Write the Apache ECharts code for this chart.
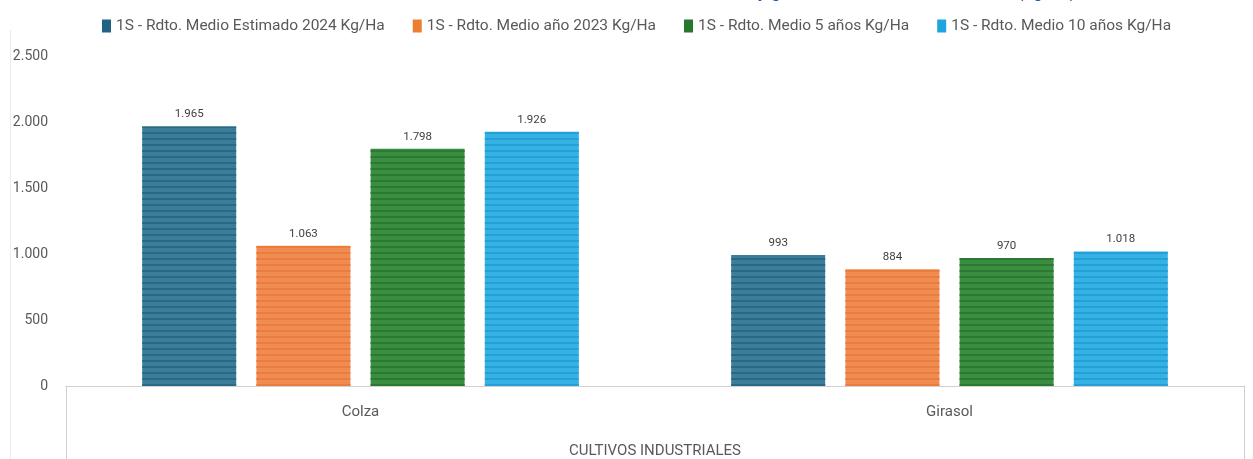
<!DOCTYPE html>
<html><head><meta charset="utf-8">
<script src="https://cdn.jsdelivr.net/npm/echarts@6/dist/echarts.min.js"></script>
<style>html,body{margin:0;padding:0;background:#fff}#c{width:1253px;height:459px}</style>
</head><body><div id="c"></div>
<script>
const categories = ['Colza', 'Girasol'];
const groupLabel = 'CULTIVOS INDUSTRIALES';
const seriesNames = [
  '1S - Rdto. Medio Estimado 2024 Kg/Ha',
  '1S - Rdto. Medio año 2023 Kg/Ha',
  '1S - Rdto. Medio 5 años Kg/Ha',
  '1S - Rdto. Medio 10 años Kg/Ha'
];
const est2024 = [1965, 993];
const year2023 = [1063, 884];
const avg5 = [1798, 970];
const avg10 = [1926, 1018];
const yTicks = [0, 500, 1000, 1500, 2000, 2500];

const values = [est2024, year2023, avg5, avg10];
const fills = ['#3c7d9a', '#f08c52', '#3b8d41', '#35b1e4'];
const stripes = ['#2a6986', '#ea7c3e', '#2a7a32', '#22a1d9'];
const legendColors = ['#1f6283', '#ed7d31', '#27782d', '#1ea5de'];

const fmt = v => String(v).replace(/\B(?=(\d{3})+(?!\d))/g, '.');
const font = 'Roboto, "Noto Sans", sans-serif';

const chart = echarts.init(document.getElementById('c'), null, {renderer: 'canvas'});
chart.setOption({
  animation: false,
  title: {
    text: 'Cultivos industriales: colza y girasol - rendimientos medios (kg/ha)',
    right: 172, top: -22,
    textStyle: {color: '#2156a6', fontSize: 18, fontWeight: 'bold', fontFamily: font}
  },
  legend: {
    top: 13, left: 97,
    itemWidth: 9, itemHeight: 13, itemGap: 28,
    icon: 'rect',
    textStyle: {color: '#595959', fontSize: 15.5, fontFamily: font},
    data: seriesNames.map((n, i) => ({name: n, itemStyle: {color: legendColors[i], decal: 'none'}}))
  },
  graphic: [{
    type: 'line', shape: {x1: 10.5, y1: 30, x2: 10.5, y2: 459},
    style: {stroke: '#ececec', lineWidth: 1}, silent: true
  }],
  grid: [
    {left: 66, right: 9, top: 56, bottom: 73, outerBoundsMode: 'none'},
    {left: 66, right: 9, top: 386, height: 100, outerBoundsMode: 'none'}
  ],
  xAxis: [{
    gridIndex: 0, type: 'category', data: categories,
    axisLine: {show: true, lineStyle: {color: '#d0d0d0', width: 1}},
    axisTick: {show: false},
    axisLabel: {color: '#595959', fontSize: 15, fontFamily: font, margin: 19},
    name: groupLabel, nameLocation: 'middle', nameGap: 58,
    nameTextStyle: {color: '#595959', fontSize: 15, fontFamily: font}
  }, {
    gridIndex: 1, type: 'category', data: [groupLabel],
    show: false
  }],
  yAxis: [{
    gridIndex: 0, type: 'value', min: 0, max: 2500, interval: 500,
    axisLine: {show: false}, axisTick: {show: false}, splitLine: {show: false},
    axisLabel: {color: '#595959', fontSize: 14, fontFamily: font, margin: 18,
      formatter: v => yTicks.includes(v) ? fmt(v) : ''}
  }, {
    gridIndex: 1, type: 'value', position: 'left',
    axisLine: {show: true, lineStyle: {color: '#d0d0d0'}}, axisTick: {show: false},
    axisLabel: {show: false}, splitLine: {show: false}
  }, {
    gridIndex: 1, type: 'value', position: 'right',
    axisLine: {show: true, lineStyle: {color: '#d0d0d0'}}, axisTick: {show: false},
    axisLabel: {show: false}, splitLine: {show: false}
  }],
  series: seriesNames.map((n, i) => ({
    name: n, type: 'bar', xAxisIndex: 0, yAxisIndex: 0,
    data: values[i], barWidth: 94, barGap: '21.5%',
    itemStyle: {
      color: fills[i],
      decal: {symbol: 'rect', symbolSize: 1, dashArrayX: [1, 0], dashArrayY: [2, 4],
              rotation: 0, color: stripes[i]}
    },
    label: {show: true, position: 'top', distance: 6, color: '#404040',
      fontSize: 11.5, fontFamily: font, formatter: p => fmt(p.value)}
  }))
});
</script></body></html>
